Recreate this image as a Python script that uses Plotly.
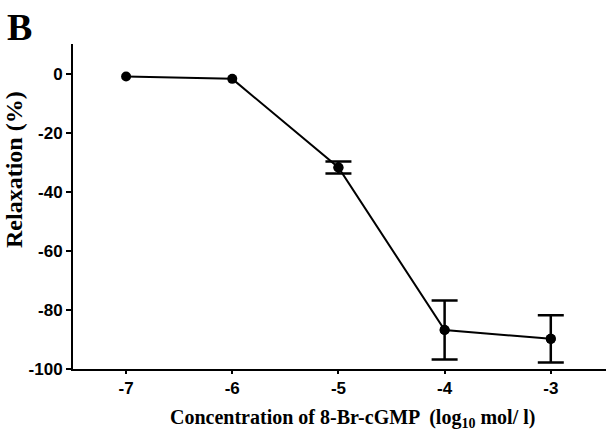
import plotly.graph_objects as go

log_conc = [-7, -6, -5, -4, -3]
relaxation = [-1, -1.8, -31.8, -86.8, -89.8]
sem = [0, 0, 2, 10, 8]
x_ticks = [-7, -6, -5, -4, -3]
y_ticks = [0, -20, -40, -60, -80, -100]

err_x = [x for x, s in zip(log_conc, sem) if s > 0]
err_y = [y for y, s in zip(relaxation, sem) if s > 0]
err_s = [s for s in sem if s > 0]

fig = go.Figure()
fig.add_trace(go.Scatter(
    x=err_x, y=err_y, mode="markers",
    marker=dict(color="black", size=10),
    error_y=dict(type="data", array=err_s, visible=True, color="black", thickness=2.5, width=13),
    showlegend=False, hoverinfo="skip",
))
fig.add_trace(go.Scatter(
    x=log_conc, y=relaxation, mode="lines+markers",
    line=dict(color="black", width=2),
    marker=dict(color="black", size=10),
    showlegend=False,
))

fig.update_layout(
    width=606, height=434,
    margin=dict(l=73, r=0, t=44, b=65),
    paper_bgcolor="white", plot_bgcolor="white",
    font=dict(family="Liberation Sans, Arial", color="black"),
)
fig.update_xaxes(
    range=[-7.5, -2.48], tickvals=x_ticks, ticktext=[str(v) for v in x_ticks],
    showline=True, linecolor="black", linewidth=2, showgrid=False, zeroline=False,
    ticks="outside", ticklen=3, tickwidth=2, tickcolor="black",
    tickfont=dict(family="Liberation Sans, Arial", size=17, color="black", weight="bold"),
)
fig.update_yaxes(
    range=[-100, 10], tickvals=y_ticks, ticktext=[str(v) for v in y_ticks],
    showline=True, linecolor="black", linewidth=2, showgrid=False, zeroline=False,
    ticks="outside", ticklen=5, tickwidth=2, tickcolor="black",
    tickfont=dict(family="Liberation Sans, Arial", size=17, color="black", weight="bold"),
)

fig.add_annotation(
    text="Concentration of 8-Br-cGMP  (log<sub>10</sub> mol/ l)",
    xref="paper", yref="paper", x=(352 - 73) / 533, y=(369 - 418) / 325,
    showarrow=False, xanchor="center", yanchor="middle",
    font=dict(family="Liberation Serif, Times New Roman", size=20, color="black", weight="bold"),
)
fig.add_annotation(
    text="Relaxation (%)", textangle=-90,
    xref="paper", yref="paper", x=(14 - 73) / 533, y=(369 - 170) / 325,
    showarrow=False, xanchor="center", yanchor="middle",
    font=dict(family="Liberation Serif, Times New Roman", size=24, color="black", weight="bold"),
)
fig.add_annotation(
    text="B",
    xref="paper", yref="paper", x=(5 - 73) / 533, y=(369 - 27) / 325,
    showarrow=False, xanchor="left", yanchor="middle",
    font=dict(family="Liberation Serif, Times New Roman", size=38, color="black", weight="bold"),
)

fig.write_html("out.html", config={"displayModeBar": False},
               post_script="document.body.style.margin='0';document.body.style.overflow='hidden';")
